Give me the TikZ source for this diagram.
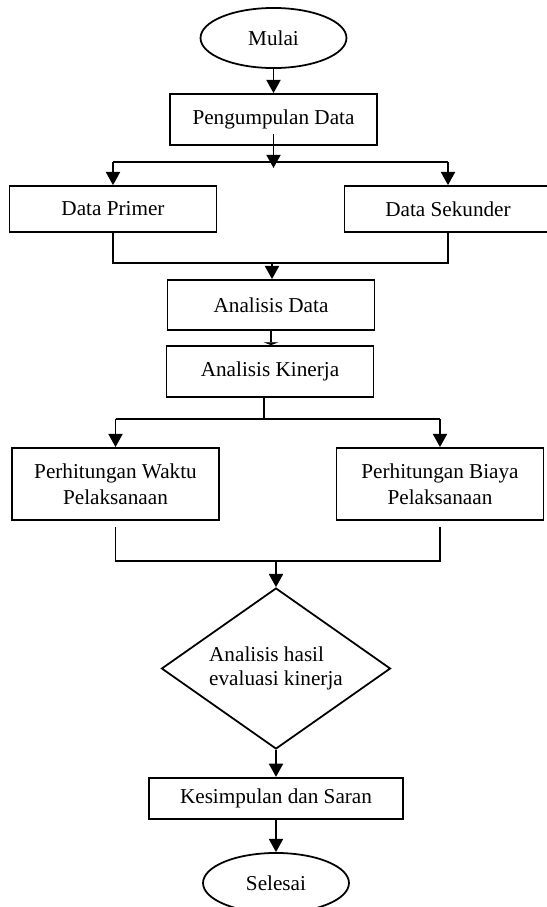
\documentclass[tikz,border=0pt]{standalone}
\usepackage{fontspec}
\setmainfont{Liberation Serif}
\usetikzlibrary{arrows.meta,shapes.geometric}
\begin{document}
\begin{tikzpicture}[x=0.566pt,y=-0.566pt,line width=1pt,
    every node/.style={font=\fontsize{12}{15}\selectfont},
    proses/.style={draw,rectangle,minimum width=117.2pt,inner sep=2pt,align=center},
    terminal/.style={draw,ellipse,minimum width=82.6pt,minimum height=34pt},
    keputusan/.style={draw,diamond,aspect=1.42,inner sep=0pt,minimum width=129.6pt,minimum height=91.1pt,align=left,font=\fontsize{12}{13.5}\selectfont},
    panah/.style={-{Triangle[length=7.5pt,width=8pt]}},
    palang/.style={-{Triangle[length=1.6pt,width=8.5pt]}}]
    \useasboundingbox (0,0) rectangle (547,907);
    \node[terminal] (mulai) at (273.5,38) {Mulai};
    \node[proses,minimum height=28.9pt] (kumpul) at (273.5,119.5) {Pengumpulan Data};
    \node[proses,minimum height=26pt] (primer) at (113,209) {Data Primer};
    \node[proses,minimum height=26pt] (sekunder) at (448,209) {Data Sekunder};
    \node[proses,minimum height=28.3pt] (analisis) at (271,305) {Analisis Data};
    \node[proses,minimum height=28.9pt] (kinerja) at (270,371.5) {Analisis Kinerja};
    \node[proses,minimum height=40.8pt] (waktu) at (115.5,484) {Perhitungan Waktu\\Pelaksanaan};
    \node[proses,minimum height=40.8pt] (biaya) at (440,484) {Perhitungan Biaya\\Pelaksanaan};
    \node[keputusan] (evaluasi) at (276,668.5) {Analisis hasil\\evaluasi kinerja};
    \node[proses,minimum width=143.8pt,minimum height=23.5pt] (simpul) at (276,798.5) {Kesimpulan dan Saran};
    \node[terminal] (selesai) at (276,883) {Selesai};
    \coordinate (cabang1) at (273.5,162);
    \coordinate (gabung1) at (272,263);
    \coordinate (cabang2) at (264,419);
    \coordinate (gabung2) at (276,561);
    \draw[panah] (mulai) -- (kumpul);
    \draw[panah] ([yshift=6.8pt]kumpul.south) -- ([yshift=-3.4pt]cabang1);
    \draw (primer.north |- cabang1) -- (sekunder.north |- cabang1);
    \draw[panah] (primer.north |- cabang1) -- (primer.north);
    \draw[panah] (sekunder.north |- cabang1) -- (sekunder.north);
    \draw (primer.south) |- (gabung1) -| (sekunder.south);
    \draw[panah] (gabung1) -- (gabung1 |- analisis.north);
    \draw[palang] (analisis.south) -- (analisis.south |- kinerja.north);
    \draw (cabang2 |- kinerja.south) -- (cabang2);
    \draw (waktu.north |- cabang2) -- (biaya.north |- cabang2);
    \draw[panah] (waktu.north |- cabang2) -- (waktu.north);
    \draw[panah] (biaya.north |- cabang2) -- (biaya.north);
    \draw ([yshift=-3.5pt]waktu.south) |- (gabung2) -| ([yshift=-3.5pt]biaya.south);
    \draw[panah] (gabung2) -- (evaluasi.north);
    \draw[panah] (evaluasi.south) -- (simpul.north);
    \draw[panah] (simpul) -- (selesai);
\end{tikzpicture}
\end{document}
